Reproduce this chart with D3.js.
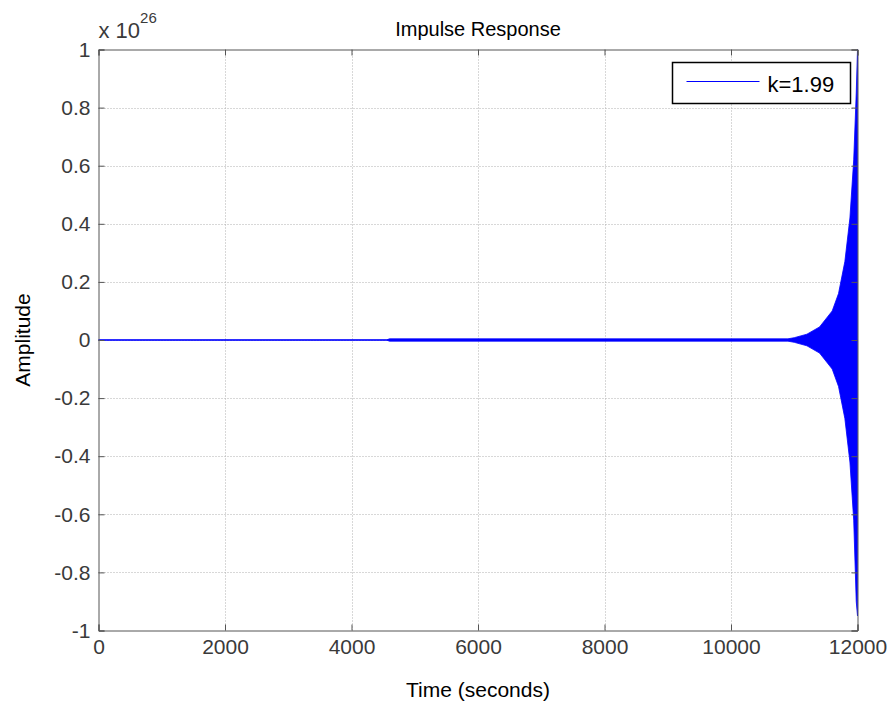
<!DOCTYPE html>
<html>
<head>
<meta charset="utf-8">
<script src="https://cdn.jsdelivr.net/npm/d3@7"></script>
<style>
  body { margin: 0; background: #fff; }
  svg { font-family: "Liberation Sans", Arial, sans-serif; }
</style>
</head>
<body>
<div id="chart"></div>
<script>
// x ticks (seconds) and y ticks (x 10^26)
const xTicks = [0, 2000, 4000, 6000, 8000, 10000, 12000];
const yTicks = [-1, -0.8, -0.6, -0.4, -0.2, 0, 0.2, 0.4, 0.6, 0.8, 1];

// envelope of the oscillating impulse response
const envTime  = [0, 4550, 4600, 10900, 11000, 11200, 11400, 11600, 11700, 11800, 11880, 11940, 11980, 12000];
const envUpper = [0, 0, 0.004, 0.004, 0.008, 0.02, 0.045, 0.1, 0.16, 0.27, 0.42, 0.62, 0.85, 1.0];
const envLower = [0, 0, -0.004, -0.004, -0.008, -0.02, -0.045, -0.1, -0.16, -0.27, -0.42, -0.62, -0.9, -0.95];

const width = 893, height = 705;

const x = d3.scaleLinear([0, 12000], [98.5, 857.5]);
const y = d3.scaleLinear([-1, 1], [630.5, 49.5]);

const svg = d3.select("#chart").append("svg")
    .attr("width", width)
    .attr("height", height);

// grid
svg.append("g")
    .selectAll("line")
    .data(xTicks.slice(1, -1))
    .join("line")
      .attr("x1", d => Math.round(x(d)) + 0.5).attr("x2", d => Math.round(x(d)) + 0.5)
      .attr("y1", y(-1)).attr("y2", y(1))
      .attr("stroke", "#b0b0b0")
      .attr("stroke-dasharray", "1,2");
svg.append("g")
    .selectAll("line")
    .data(yTicks.slice(1, -1))
    .join("line")
      .attr("x1", x(0)).attr("x2", x(12000))
      .attr("y1", d => Math.round(y(d)) + 0.5).attr("y2", d => Math.round(y(d)) + 0.5)
      .attr("stroke", "#b0b0b0")
      .attr("stroke-dasharray", "1,2");

// response
const pts = envTime.map((t, i) => ({t, hi: envUpper[i], lo: envLower[i]}));
svg.append("path")
    .datum(pts)
    .attr("fill", "#0000ff")
    .attr("stroke", "#0000ff")
    .attr("stroke-width", 0.8)
    .attr("d", d3.area().x(d => x(d.t)).y0(d => y(d.lo)).y1(d => y(d.hi)));
svg.append("path")
    .datum(pts)
    .attr("fill", "none")
    .attr("stroke", "#0000ff")
    .attr("stroke-width", 1)
    .attr("d", d3.line().x(d => x(d.t)).y(() => y(0)));

// axes
const axisColor = "#555";
const fmt = d => String(d);
const gx = svg.append("g")
    .attr("transform", `translate(0,${y(-1)})`)
    .call(d3.axisBottom(x).tickValues(xTicks).tickFormat(fmt).tickSize(-6).tickPadding(9));
const gx2 = svg.append("g")
    .attr("transform", `translate(0,${y(1)})`)
    .call(d3.axisTop(x).tickValues(xTicks).tickFormat("").tickSize(-6));
const gy = svg.append("g")
    .attr("transform", `translate(${x(0)},0)`)
    .call(d3.axisLeft(y).tickValues(yTicks).tickFormat(fmt).tickSize(-6).tickPadding(8));
const gy2 = svg.append("g")
    .attr("transform", `translate(${x(12000)},0)`)
    .call(d3.axisRight(y).tickValues(yTicks).tickFormat("").tickSize(-6));

[gx, gx2, gy, gy2].forEach(g => {
  g.select(".domain").attr("stroke", axisColor);
  g.selectAll(".tick line").attr("stroke", axisColor);
  g.selectAll(".tick text").attr("fill", "#3a3a3a").style("font-size", "21px");
});

// exponent label
const ex = svg.append("text")
    .attr("x", x(0))
    .attr("y", 38)
    .attr("fill", "#3a3a3a")
    .style("font-size", "22px")
    .text("x 10");
ex.append("tspan")
    .attr("dy", -15)
    .style("font-size", "15px")
    .text("26");

// titles
svg.append("text")
    .attr("x", (x(0) + x(12000)) / 2)
    .attr("y", 36)
    .attr("text-anchor", "middle")
    .attr("fill", "#000")
    .style("font-size", "20px")
    .text("Impulse Response");
svg.append("text")
    .attr("x", (x(0) + x(12000)) / 2)
    .attr("y", 697)
    .attr("text-anchor", "middle")
    .attr("fill", "#000")
    .style("font-size", "21px")
    .text("Time (seconds)");
svg.append("text")
    .attr("transform", `translate(30,${y(0)}) rotate(-90)`)
    .attr("text-anchor", "middle")
    .attr("fill", "#000")
    .style("font-size", "21px")
    .text("Amplitude");

// legend
const lg = svg.append("g").attr("transform", "translate(672.5,62.5)");
lg.append("rect")
    .attr("width", 178).attr("height", 41)
    .attr("fill", "#fff")
    .attr("stroke", "#000")
    .attr("stroke-width", 1.5);
lg.append("line")
    .attr("x1", 14).attr("x2", 87)
    .attr("y1", 19).attr("y2", 19)
    .attr("stroke", "#0000ff");
lg.append("text")
    .attr("x", 95).attr("y", 29)
    .attr("fill", "#000")
    .style("font-size", "22px")
    .text("k=1.99");
</script>
</body>
</html>
